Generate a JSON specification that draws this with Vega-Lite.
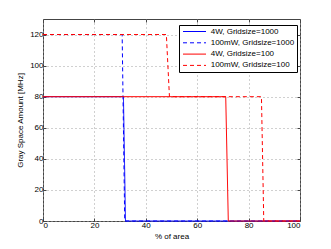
{
  "$schema": "https://vega.github.io/schema/vega-lite/v6.json",
  "width": 257,
  "height": 202,
  "autosize": "none",
  "padding": {"left": 43, "top": 19, "right": 31, "bottom": 28},
  "config": {
    "font": "Liberation Sans",
    "view": {"stroke": "#444", "strokeWidth": 1},
    "axis": {
      "labelFontSize": 8, "titleFontSize": 8, "labelColor": "#000", "titleColor": "#000",
      "titleFontWeight": "normal", "domain": false, "tickColor": "#444", "tickSize": -3,
      "grid": true, "gridColor": "#a0a0a0", "gridDash": [1, 3], "labelPadding": 3
    },
    "legend": {
      "orient": "none", "legendX": 136, "legendY": 6, "symbolType": "M-0.625,0H5.125", "symbolSize": 64,
      "symbolStrokeWidth": 1, "strokeColor": "#000", "fillColor": "#fff", "padding": 2,
      "labelFontSize": 8, "labelColor": "#000", "rowPadding": 2.3, "labelOffset": 20.7
    }
  },
  "resolve": {"axis": {"x": "independent", "y": "independent"}},
  "data": {"values": [
    {"s": "4W, Gridsize=1000", "i": 0, "x": 0, "y": 80},
    {"s": "4W, Gridsize=1000", "i": 1, "x": 31.3, "y": 80},
    {"s": "4W, Gridsize=1000", "i": 2, "x": 32.1, "y": 0},
    {"s": "4W, Gridsize=1000", "i": 3, "x": 100, "y": 0},
    {"s": "100mW, Gridsize=1000", "i": 0, "x": 0, "y": 120},
    {"s": "100mW, Gridsize=1000", "i": 1, "x": 30.8, "y": 120},
    {"s": "100mW, Gridsize=1000", "i": 2, "x": 31.8, "y": 0},
    {"s": "100mW, Gridsize=1000", "i": 3, "x": 100, "y": 0},
    {"s": "4W, Gridsize=100", "i": 0, "x": 0, "y": 80},
    {"s": "4W, Gridsize=100", "i": 1, "x": 71.1, "y": 80},
    {"s": "4W, Gridsize=100", "i": 2, "x": 72.1, "y": 0},
    {"s": "4W, Gridsize=100", "i": 3, "x": 100, "y": 0},
    {"s": "100mW, Gridsize=100", "i": 0, "x": 0, "y": 120},
    {"s": "100mW, Gridsize=100", "i": 1, "x": 48, "y": 120},
    {"s": "100mW, Gridsize=100", "i": 2, "x": 49.2, "y": 80},
    {"s": "100mW, Gridsize=100", "i": 3, "x": 85, "y": 80},
    {"s": "100mW, Gridsize=100", "i": 4, "x": 85.9, "y": 0},
    {"s": "100mW, Gridsize=100", "i": 5, "x": 100, "y": 0}
  ]},
  "layer": [
    {
      "mark": {"type": "line", "strokeWidth": 1},
      "encoding": {
        "x": {"field": "x", "type": "quantitative", "scale": {"domain": [0, 100], "nice": false},
              "axis": {"orient": "bottom", "values": [0, 20, 40, 60, 80, 100], "title": "% of area", "titlePadding": 3}},
        "y": {"field": "y", "type": "quantitative", "scale": {"domain": [0, 130], "nice": false},
              "axis": {"orient": "left", "values": [0, 20, 40, 60, 80, 100, 120], "title": "Gray Space Amount [MHz]", "titlePadding": 5}},
        "color": {"field": "s", "type": "nominal",
                  "scale": {"domain": ["4W, Gridsize=1000", "100mW, Gridsize=1000", "4W, Gridsize=100", "100mW, Gridsize=100"],
                            "range": ["#0000ff", "#0000ff", "#ff0000", "#ff0000"]},
                  "legend": {"title": null}},
        "strokeDash": {"field": "s", "type": "nominal",
                  "scale": {"domain": ["4W, Gridsize=1000", "100mW, Gridsize=1000", "4W, Gridsize=100", "100mW, Gridsize=100"],
                            "range": [[1, 0], [4, 3], [1, 0], [4, 3]]},
                  "legend": {"title": null}},
        "order": {"field": "i", "type": "quantitative"}
      }
    },
    {
      "mark": {"type": "line", "opacity": 0},
      "encoding": {
        "x": {"field": "x", "type": "quantitative", "axis": {"orient": "top", "labels": false, "title": null, "grid": false, "values": [0, 20, 40, 60, 80, 100]}},
        "y": {"field": "y", "type": "quantitative", "axis": {"orient": "right", "labels": false, "title": null, "grid": false, "values": [0, 20, 40, 60, 80, 100, 120]}},
        "detail": {"field": "s"}
      }
    }
  ]
}
